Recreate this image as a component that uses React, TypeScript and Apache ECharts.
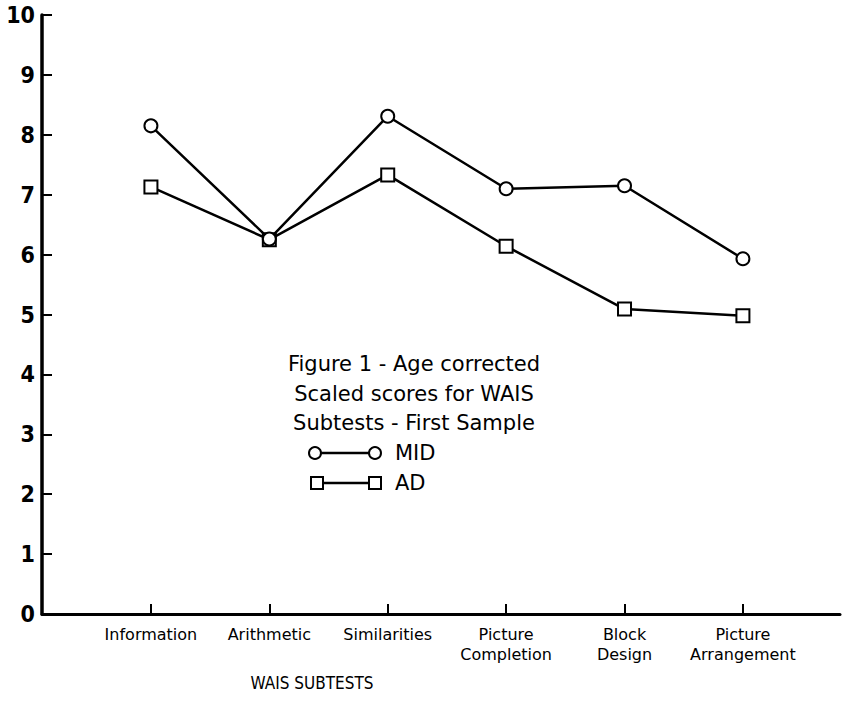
import React, { useEffect, useRef } from "react";
import * as echarts from "echarts";

const categories = [
  "Information",
  "Arithmetic",
  "Similarities",
  "Picture\nCompletion",
  "Block\nDesign",
  "Picture\nArrangement",
];
const midScores = [8.15, 6.26, 8.31, 7.1, 7.15, 5.93];
const adScores = [7.13, 6.25, 7.33, 6.14, 5.09, 4.98];
const yTicks = [0, 1, 2, 3, 4, 5, 6, 7, 8, 9, 10];
const captionLines = [
  "Figure 1 - Age corrected",
  "Scaled scores for WAIS",
  "Subtests - First Sample",
];
const seriesNames = ["MID", "AD"];
const axisTitle = "WAIS SUBTESTS";

export default function App() {
  const ref = useRef<HTMLDivElement>(null);
  useEffect(() => {
    if (!ref.current) return;
    const chart = echarts.init(ref.current, null, { renderer: "svg" });
    const positions = categories.map((_, i) => i + 1);
    const toPairs = (arr: number[]) => arr.map((v, i) => [i + 1, v]);
    const black = "#000";
    const capFont = '"DejaVu Sans", sans-serif';
    const narrowFont = '"Liberation Sans Narrow", "DejaVu Sans Condensed", sans-serif';
    const captionY = [364, 394, 423];
    const graphic: any[] = captionLines.map((t, i) => ({
      type: "text",
      x: 414,
      y: captionY[i],
      style: {
        text: t,
        fontFamily: capFont,
        fontSize: 21,
        fill: black,
        align: "center",
        verticalAlign: "middle",
      },
    }));
    // legend rows
    const rowY = [453, 483];
    graphic.push(
      { type: "line", shape: { x1: 315, y1: rowY[0], x2: 375, y2: rowY[0] }, style: { stroke: black, lineWidth: 2.5 } },
      { type: "circle", shape: { cx: 315, cy: rowY[0], r: 6 }, style: { fill: "#fff", stroke: black, lineWidth: 2 } },
      { type: "circle", shape: { cx: 375, cy: rowY[0], r: 6 }, style: { fill: "#fff", stroke: black, lineWidth: 2 } },
      { type: "text", x: 395, y: rowY[0], style: { text: seriesNames[0], fontFamily: capFont, fontSize: 21, fill: black, align: "left", verticalAlign: "middle" } },
      { type: "line", shape: { x1: 317, y1: rowY[1], x2: 375, y2: rowY[1] }, style: { stroke: black, lineWidth: 2.5 } },
      { type: "rect", shape: { x: 311, y: rowY[1] - 6, width: 12, height: 12 }, style: { fill: "#fff", stroke: black, lineWidth: 2 } },
      { type: "rect", shape: { x: 369, y: rowY[1] - 6, width: 12, height: 12 }, style: { fill: "#fff", stroke: black, lineWidth: 2 } },
      { type: "text", x: 395, y: rowY[1], style: { text: seriesNames[1], fontFamily: capFont, fontSize: 21, fill: black, align: "left", verticalAlign: "middle" } },
      { type: "text", x: 312, y: 683, style: { text: axisTitle, fontFamily: narrowFont, fontSize: 17, fill: black, align: "center", verticalAlign: "middle" } }
    );

    chart.setOption({
      animation: false,
      backgroundColor: "#fff",
      grid: { left: 42, right: 6, top: 15, bottom: 90, containLabel: false },
      xAxis: {
        type: "value",
        min: 0.08,
        max: 6.82,
        splitLine: { show: false },
        axisLine: { show: true, onZero: false, lineStyle: { color: black, width: 3 } },
        axisTick: { show: true, inside: true, length: 10, customValues: positions, lineStyle: { color: black, width: 2 } },
        axisLabel: {
          customValues: positions,
          formatter: (v: number) => categories[Math.round(v) - 1] ?? "",
          fontFamily: capFont,
          fontSize: 16,
          lineHeight: 20,
          margin: 10,
          color: black,
        },
      },
      yAxis: {
        type: "value",
        min: yTicks[0],
        max: yTicks[yTicks.length - 1],
        interval: 1,
        splitLine: { show: false },
        axisLine: { show: true, onZero: false, lineStyle: { color: black, width: 3.5 } },
        axisTick: { show: true, inside: true, length: 10, lineStyle: { color: black, width: 2 } },
        axisLabel: {
          fontFamily: narrowFont,
          fontWeight: "bold",
          fontSize: 23,
          margin: 7,
          color: black,
        },
      },
      series: [
        {
          name: seriesNames[1],
          type: "line",
          data: toPairs(adScores),
          symbol: "rect",
          symbolSize: 13,
          lineStyle: { color: black, width: 2.5 },
          itemStyle: { color: "#fff", borderColor: black, borderWidth: 2 },
          z: 2,
        },
        {
          name: seriesNames[0],
          type: "line",
          data: toPairs(midScores),
          symbol: "circle",
          symbolSize: 13,
          lineStyle: { color: black, width: 2.5 },
          itemStyle: { color: "#fff", borderColor: black, borderWidth: 2 },
          z: 3,
        },
      ],
      graphic,
    });
    return () => chart.dispose();
  }, []);
  return (
    <div
      ref={ref}
      style={{ position: "fixed", left: 0, top: 0, width: 846, height: 704, background: "#fff" }}
    />
  );
}
